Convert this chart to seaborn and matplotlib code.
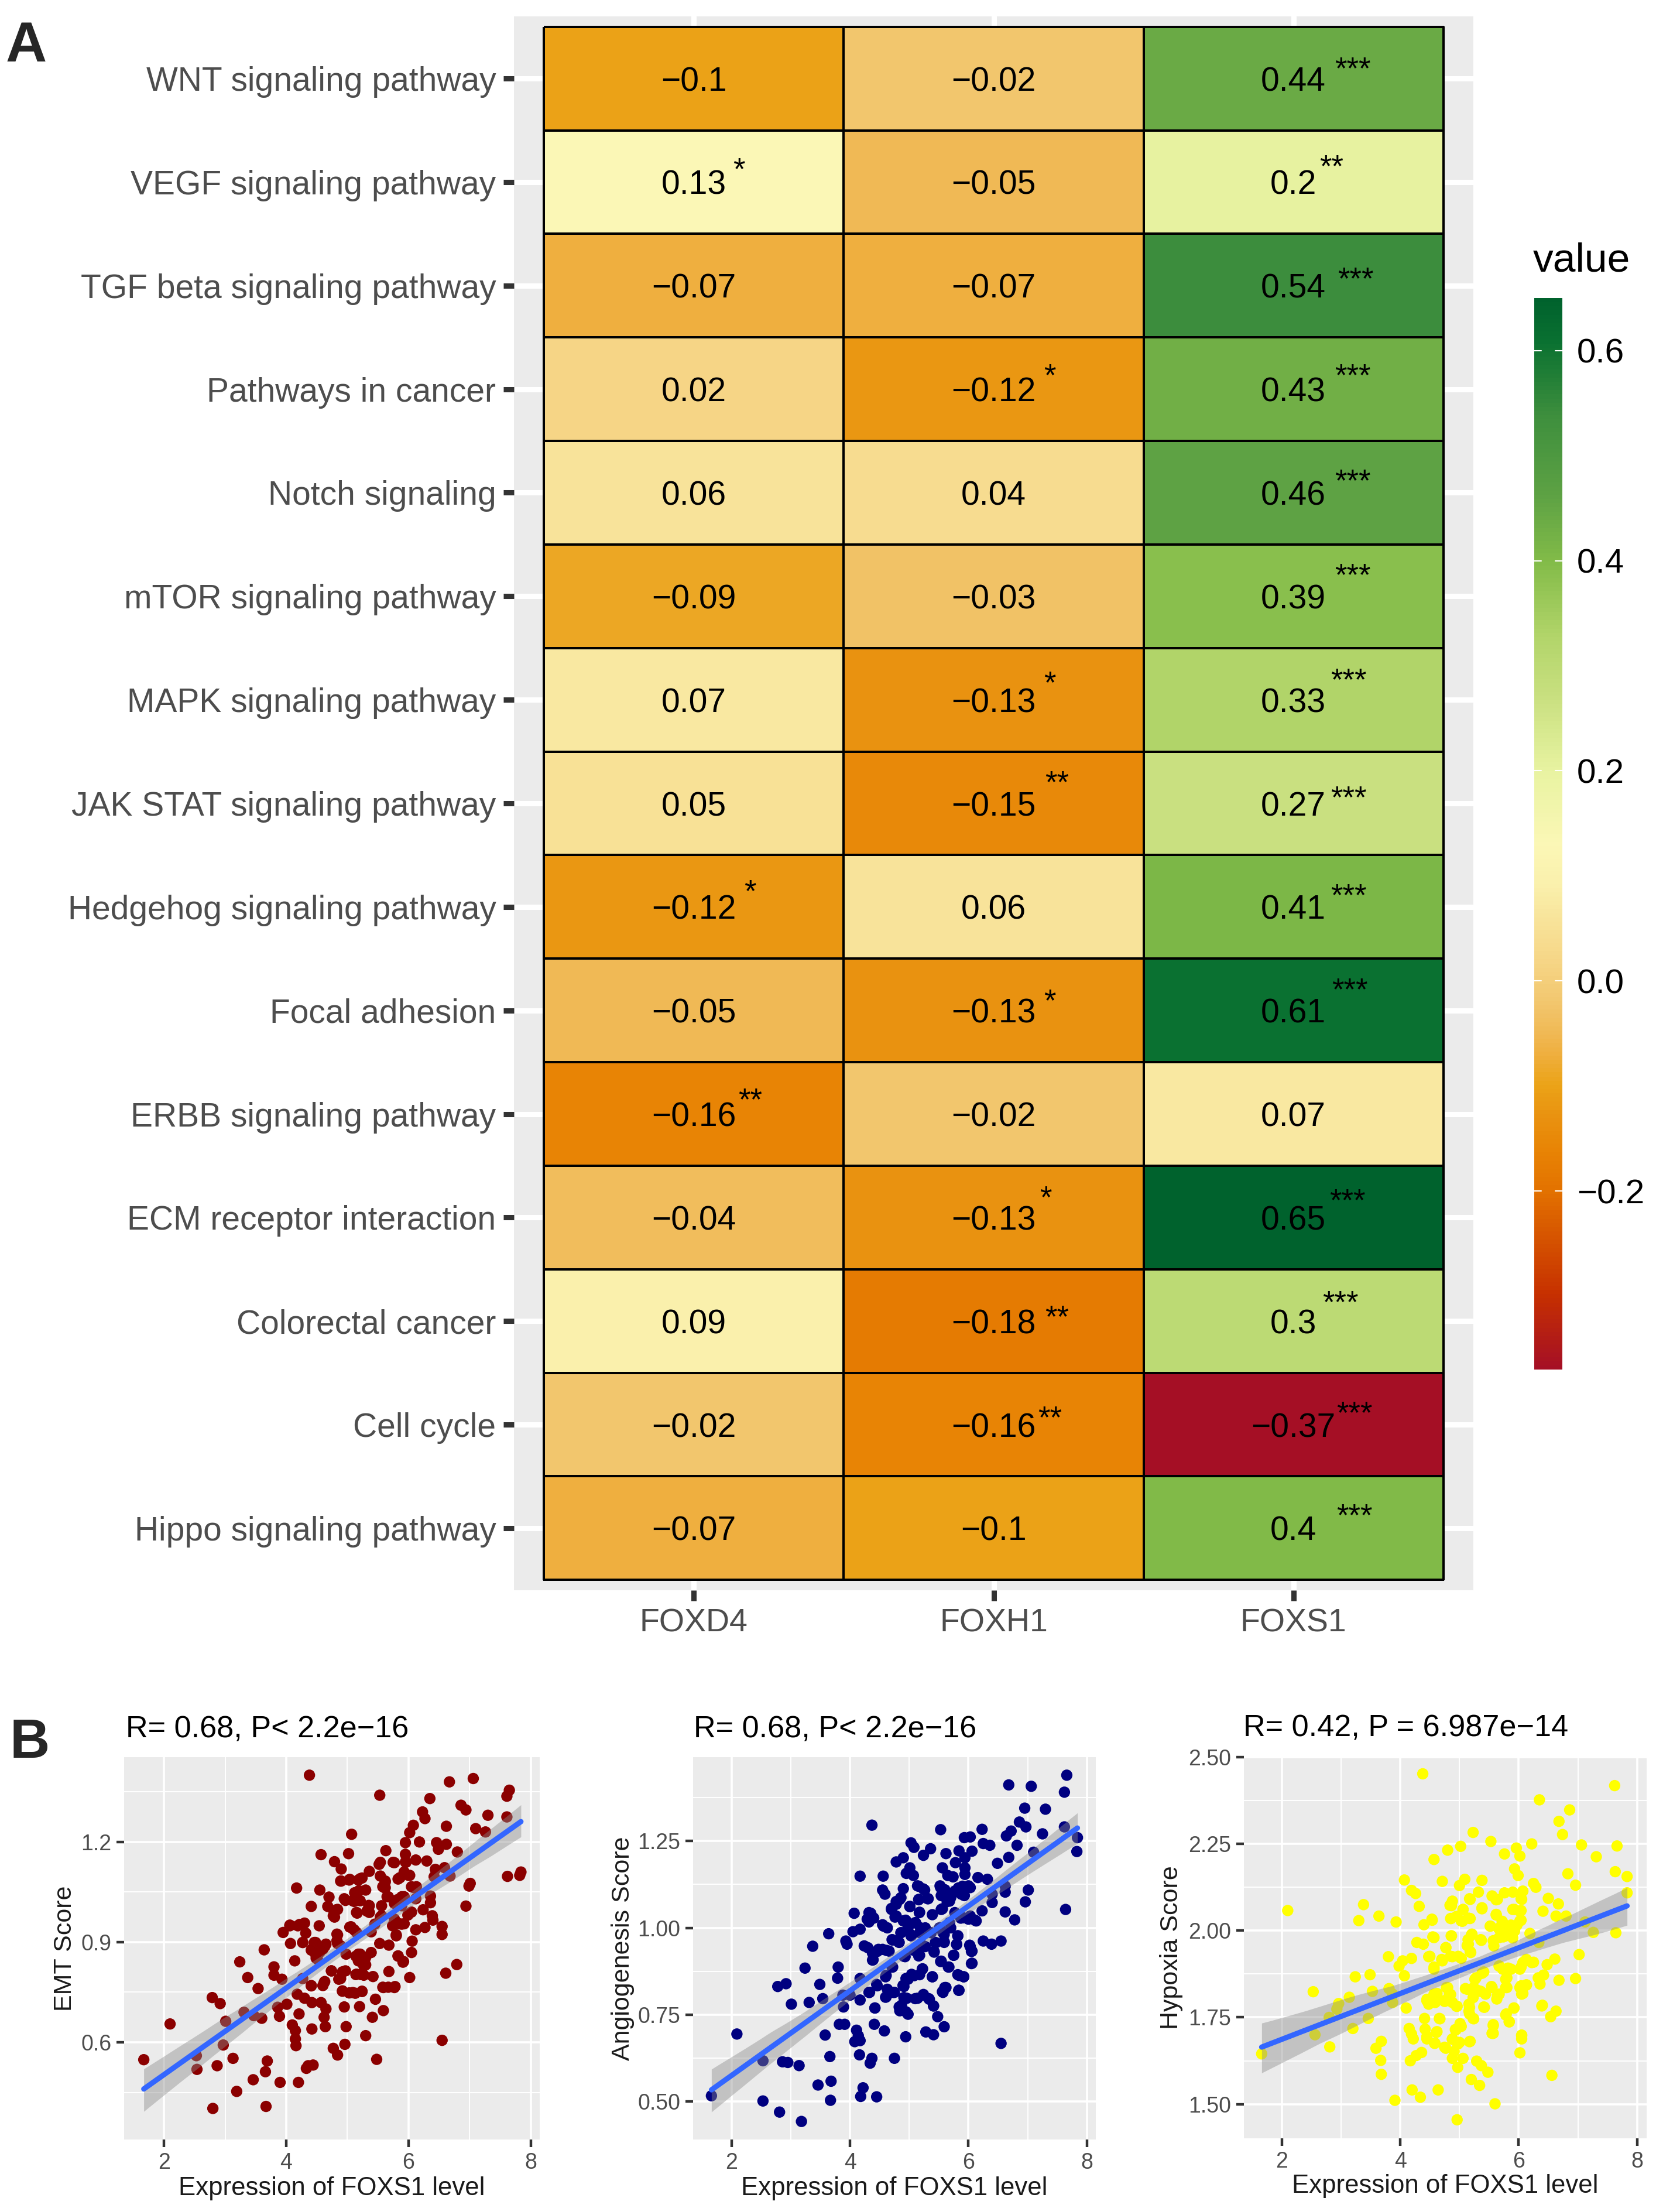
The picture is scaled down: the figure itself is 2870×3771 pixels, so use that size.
import numpy as np
import pandas as pd
import matplotlib
matplotlib.use("Agg")
import matplotlib.pyplot as plt
from matplotlib.colors import LinearSegmentedColormap
import seaborn as sns

sns.set_style("white")
plt.rcParams['font.family'] = ['Liberation Sans', 'DejaVu Sans']

W, H = 2870, 3771
GENES = ["FOXD4", "FOXH1", "FOXS1"]
PATHWAYS = ["WNT signaling pathway", "VEGF signaling pathway", "TGF beta signaling pathway",
            "Pathways in cancer", "Notch signaling", "mTOR signaling pathway", "MAPK signaling pathway",
            "JAK STAT signaling pathway", "Hedgehog signaling pathway", "Focal adhesion",
            "ERBB signaling pathway", "ECM receptor interaction", "Colorectal cancer", "Cell cycle",
            "Hippo signaling pathway"]
FOXD4 = [-0.1, 0.13, -0.07, 0.02, 0.06, -0.09, 0.07, 0.05, -0.12, -0.05, -0.16, -0.04, 0.09, -0.02, -0.07]
FOXH1 = [-0.02, -0.05, -0.07, -0.12, 0.04, -0.03, -0.13, -0.15, 0.06, -0.13, -0.02, -0.13, -0.18, -0.16, -0.1]
FOXS1 = [0.44, 0.2, 0.54, 0.43, 0.46, 0.39, 0.33, 0.27, 0.41, 0.61, 0.07, 0.65, 0.3, -0.37, 0.4]
STARS_D4 = ["", "*", "", "", "", "", "", "", "*", "", "**", "", "", "", ""]
STARS_H1 = ["", "", "", "*", "", "", "*", "**", "", "*", "", "*", "**", "**", ""]
STARS_S1 = ["***", "**", "***", "***", "***", "***", "***", "***", "***", "***", "", "***", "***", "***", "***"]

CMAP_VALUES = [-0.37, -0.3, -0.2, -0.16, -0.13, -0.1, -0.07, -0.05, -0.02, 0.02, 0.06, 0.09, 0.13, 0.2,
               0.27, 0.33, 0.4, 0.46, 0.54, 0.61, 0.65]
CMAP_COLORS = ["#A50F25", "#C63000", "#E37200", "#E88505", "#E99210", "#EBA317", "#EFAF3F", "#F0B955",
               "#F2C76F", "#F6D687", "#F8E49B", "#FAF0AC", "#FBF7B6", "#E8F3A1", "#C9E080", "#B1D469",
               "#82BB48", "#5FA344", "#3D8E3D", "#0A7131", "#00622D"]

# Scatter values
EMT_X = [4.38,5.53,6.67,7.06,7.65,7.61,6.35,6.86,6.94,7.30,6.23,6.27,7.61,6.62,7.10,7.26,5.07,6.08,6.02,5.95,6.18,6.46,6.62,6.49,6.80,5.63,4.57,5.02,5.95,4.79,4.90,5.52,5.77,5.95,6.12,6.30,5.36,6.44,6.59,5.54,5.86,6.00,6.68,6.42,7.62,7.84,7.82,4.89,5.04,5.21,5.62,7.01,6.99,4.17,4.55,5.30,5.62,6.09,5.12,4.70,5.65,5.89,6.36,4.95,5.09,5.21,5.77,6.12,6.36,4.41,6.94,4.68,5.36,5.56,5.89,4.82,6.24,5.15,5.36,4.77,5.56,6.00,6.39,5.77,6.40,5.89,5.45,4.06,4.22,4.30,4.54,5.04,5.74,6.55,6.27,6.12,3.95,4.32,4.83,5.15,5.39,6.55,5.80,4.83,6.06,4.07,4.27,4.48,4.65,4.89,5.53,5.68,3.64,4.42,4.60,6.05,5.39,4.48,5.18,4.98,5.83,4.51,5.30,5.18,3.24,4.14,5.92,3.80,5.27,6.79,4.74,4.97,5.68,6.61,3.80,5.15,5.27,3.37,3.93,4.27,4.86,5.42,6.02,4.62,4.41,3.54,5.77,5.59,4.92,5.09,5.24,4.18,4.30,5.46,2.79,2.92,4.42,4.57,4.01,5.20,4.95,4.65,3.86,5.59,4.21,3.31,3.89,3.47,4.62,5.41,3.60,3.01,2.10,4.10,4.42,4.64,4.98,4.15,5.30,4.15,6.55,4.96,2.97,4.16,4.77,4.84,1.67,2.53,3.13,5.48,3.69,2.87,4.36,4.44,2.54,4.33,3.66,3.46,3.90,4.20,3.19,3.67,2.80]
EMT_Y = [1.40,1.34,1.38,1.39,1.355,1.337,1.33,1.31,1.296,1.28,1.29,1.27,1.275,1.247,1.24,1.23,1.223,1.25,1.228,1.198,1.20,1.198,1.193,1.178,1.17,1.174,1.162,1.165,1.163,1.141,1.119,1.133,1.138,1.14,1.146,1.143,1.112,1.118,1.123,1.098,1.093,1.10,1.098,1.096,1.097,1.11,1.10,1.083,1.088,1.09,1.083,1.076,1.068,1.062,1.056,1.056,1.063,1.063,1.048,1.035,1.036,1.036,1.038,1.03,1.024,1.024,1.024,1.03,1.018,1.007,1.008,1.007,1.009,1.009,1.009,0.997,0.997,0.989,0.989,0.979,0.979,0.984,0.979,0.969,0.966,0.954,0.954,0.951,0.953,0.957,0.949,0.945,0.949,0.947,0.944,0.937,0.929,0.927,0.924,0.929,0.931,0.923,0.919,0.904,0.903,0.896,0.899,0.899,0.894,0.889,0.896,0.891,0.877,0.879,0.879,0.869,0.869,0.864,0.864,0.864,0.859,0.849,0.854,0.844,0.841,0.844,0.842,0.826,0.829,0.833,0.814,0.814,0.812,0.807,0.801,0.804,0.801,0.794,0.789,0.791,0.789,0.797,0.794,0.779,0.769,0.761,0.764,0.764,0.754,0.749,0.752,0.744,0.732,0.729,0.734,0.716,0.719,0.719,0.714,0.707,0.706,0.70,0.705,0.695,0.685,0.69,0.678,0.68,0.675,0.675,0.672,0.663,0.655,0.652,0.64,0.647,0.647,0.635,0.62,0.61,0.606,0.594,0.592,0.59,0.582,0.562,0.548,0.56,0.552,0.549,0.544,0.53,0.53,0.532,0.519,0.522,0.512,0.488,0.48,0.48,0.453,0.408,0.402]
EMT_X_DENSE = [4.97,5.11,5.19,4.78,4.84,4.79,5.16,5.35,5.32,5.54,5.67,5.83,5.93,5.77,5.61,6.05,6.13,5.99,6.05,5.85,5.93,5.75,5.80,5.11,5.06,4.84,4.84,4.46,4.63,4.41,4.49,4.55,4.27,4.06,4.19,5.14,5.21,5.27,5.30,4.92,4.89,4.74,5.14,5.22,4.63,4.60,4.41,5.58,5.67,5.78,4.92,5.03,5.13,5.24,5.83,5.91,4.90,5.03,5.18,5.24,5.54,5.75,5.96,5.93,6.02,5.83,5.62,5.58]
EMT_Y_DENSE = [1.025,1.022,1.054,0.993,0.998,0.975,0.987,1.01,0.993,0.975,1.036,1.028,1.036,1.016,1.063,1.066,1.066,0.981,0.99,0.955,0.955,0.952,0.922,0.937,0.946,0.922,0.896,0.899,0.887,0.876,0.852,0.87,0.899,0.949,0.949,0.858,0.864,0.849,0.832,0.811,0.791,0.814,0.803,0.803,0.782,0.77,0.77,0.765,0.765,0.767,0.753,0.748,0.747,0.753,0.858,0.84,1.083,1.086,1.086,1.092,1.139,1.139,1.139,1.11,1.10,1.089,1.08,1.066]
ANG_X = [7.66,6.68,7.06,7.62,6.95,7.30,4.37,6.86,6.97,7.62,5.53,6.23,6.72,6.64,7.25,5.93,6.03,7.84,5.03,6.25,6.36,6.82,5.08,5.36,5.84,6.06,7.10,7.83,5.24,5.62,6.68,4.90,4.78,5.94,5.78,6.49,5.01,5.56,5.94,4.17,4.56,4.95,5.07,5.65,5.74,5.94,6.16,6.32,5.16,6.62,4.90,5.53,5.90,4.55,5.26,6.03,5.77,7.01,6.62,4.59,6.40,5.56,5.88,5.16,5.32,4.84,6.96,6.40,5.68,4.78,5.01,5.56,4.70,7.64,6.23,4.07,4.32,5.17,5.39,6.62,5.77,4.78,4.39,6.03,5.91,4.29,6.78,6.11,4.90,5.10,4.55,5.68,4.63,5.51,5.19,4.17,4.05,3.64,4.86,5.04,5.59,5.82,3.93,4.72,4.82,5.45,5.59,6.25,6.55,5.80,6.39,3.95,3.37,4.24,6.02,4.30,5.24,4.55,6.06,4.46,4.66,5.10,5.42,5.75,4.39,4.93,5.16,5.53,6.06,5.66,3.80,3.24,4.72,5.22,5.04,5.84,5.92,5.39,4.61,4.17,3.79,4.98,2.92,2.78,3.49,4.46,4.91,5.62,5.56,4.63,5.84,4.32,4.75,4.61,5.24,3.88,4.00,4.91,5.10,5.33,3.54,4.17,3.31,3.01,4.87,5.41,3.89,4.42,4.84,4.98,5.48,3.82,3.91,4.41,5.59,4.11,4.58,5.28,5.41,2.09,3.58,4.14,4.94,4.17,4.08,6.55,4.16,3.66,4.75,4.37,4.34,2.53,2.86,2.95,3.14,3.68,3.46,4.22,4.18,4.45,1.66,3.67,2.53,2.81,3.18]
ANG_Y = [1.44,1.412,1.408,1.391,1.345,1.342,1.296,1.305,1.291,1.291,1.283,1.284,1.279,1.265,1.271,1.26,1.262,1.26,1.245,1.243,1.238,1.238,1.232,1.228,1.222,1.221,1.218,1.22,1.209,1.214,1.203,1.202,1.19,1.202,1.188,1.186,1.173,1.173,1.173,1.149,1.149,1.157,1.151,1.151,1.147,1.154,1.145,1.14,1.12,1.12,1.113,1.116,1.12,1.109,1.109,1.116,1.106,1.109,1.103,1.097,1.097,1.094,1.097,1.082,1.084,1.082,1.075,1.073,1.077,1.068,1.061,1.055,1.053,1.053,1.049,1.042,1.044,1.044,1.038,1.046,1.044,1.034,1.029,1.034,1.029,1.025,1.023,1.022,1.02,1.015,1.009,1.015,1.0,1.0,1.0,0.996,0.989,0.983,0.986,0.979,0.981,0.977,0.962,0.965,0.959,0.957,0.96,0.962,0.962,0.953,0.953,0.953,0.947,0.948,0.95,0.943,0.948,0.938,0.933,0.932,0.933,0.938,0.932,0.921,0.908,0.917,0.919,0.903,0.898,0.887,0.887,0.884,0.887,0.881,0.866,0.863,0.859,0.859,0.863,0.854,0.855,0.852,0.839,0.831,0.837,0.833,0.831,0.828,0.816,0.823,0.82,0.814,0.814,0.801,0.806,0.806,0.806,0.799,0.796,0.796,0.796,0.792,0.785,0.78,0.777,0.775,0.772,0.769,0.761,0.751,0.744,0.722,0.722,0.722,0.715,0.705,0.703,0.70,0.692,0.694,0.691,0.689,0.686,0.675,0.672,0.667,0.634,0.629,0.624,0.624,0.61,0.617,0.614,0.612,0.603,0.558,0.547,0.539,0.514,0.513,0.516,0.503,0.501,0.469,0.442]
ANG_X_DENSE = [4.78,4.86,4.70,4.76,4.94,5.11,5.175,5.01,5.16,5.31,5.24,5.14,5.52,5.60,5.54,5.70,5.83,6.0,5.77,5.93,5.54,5.64,4.35,4.40,4.32,4.565,4.86,4.98,5.03,4.71,4.83,5.27,5.18,5.37,5.44,5.59,5.57,5.70,5.82,5.80,6.03,6.05,6.0,6.13,5.87,4.38,4.48,4.615,4.38,4.91,5.175,5.08,5.27,5.42,5.75,5.54,5.67,6.05,5.225,5.08,4.945,5.175,5.39,5.82,5.92,4.60,4.71,4.895,4.65,4.60,4.73,4.45,4.33,4.96,5.24,5.34,5.41,5.14,5.60,5.57,5.835,4.42,4.83,4.945]
ANG_Y_DENSE = [1.076,1.087,1.056,1.031,1.022,1.014,1.045,1.062,1.081,1.084,1.112,1.121,1.121,1.11,1.093,1.087,1.115,1.121,1.104,1.093,1.053,1.076,1.042,1.028,1.017,1.005,0.986,1.0,0.977,0.966,0.958,1.0,0.986,0.986,0.958,0.958,0.986,1.0,0.977,0.952,0.946,0.932,1.025,1.02,1.028,0.927,0.938,0.935,0.907,0.918,0.921,0.935,0.946,0.93,0.921,0.904,0.887,0.897,0.882,0.862,0.854,0.865,0.859,0.865,0.859,0.859,0.887,0.834,0.817,0.80,0.814,0.837,0.814,0.797,0.808,0.794,0.775,0.797,0.828,0.814,0.82,0.769,0.772,0.758]
HYP_X = [4.38,7.62,6.35,6.86,6.68,5.23,6.74,5.53,6.22,5.02,7.06,7.66,5.96,4.80,5.76,6.02,7.31,4.57,5.93,7.63,6.83,5.99,7.83,4.07,4.71,5.09,5.38,6.25,5.00,6.96,6.29,4.19,4.26,5.32,5.76,5.90,7.83,6.07,5.55,5.17,6.50,5.64,6.05,4.88,6.67,3.38,4.32,4.84,2.10,5.06,5.38,5.93,6.41,6.02,3.64,5.62,6.63,6.80,4.86,5.15,3.30,4.54,5.03,3.93,6.02,5.73,4.40,5.52,5.81,7.12,5.93,7.26,7.64,6.19,5.20,4.86,4.57,5.37,5.67,5.78,4.28,4.39,5.15,6.34,4.77,5.58,5.19,3.80,4.48,4.19,4.04,4.88,5.03,7.02,6.61,4.71,6.07,6.22,3.98,6.48,5.67,4.57,5.87,6.02,5.73,3.49,3.24,5.38,4.07,6.42,5.26,6.96,6.68,5.78,6.36,6.13,6.02,3.81,4.80,5.13,5.55,5.78,5.32,2.53,3.53,5.44,6.05,3.87,5.67,3.14,4.57,4.83,5.23,5.63,4.45,4.74,2.96,3.87,4.48,4.59,4.88,6.39,5.17,5.42,4.10,4.96,5.92,2.93,6.63,5.17,5.78,6.54,2.80,3.46,4.41,4.66,5.23,5.84,5.57,5.03,3.20,4.15,4.42,4.94,4.61,5.55,4.19,2.56,6.05,6.05,4.45,4.88,4.22,3.68,4.58,5.17,4.97,3.59,4.77,2.81,6.02,1.66,4.36,4.27,4.91,4.17,4.88,5.06,3.67,5.29,5.37,5.48,4.97,3.68,6.56,5.20,5.34,4.20,4.64,4.34,3.91,5.60,4.96]
HYP_Y = [2.452,2.418,2.377,2.348,2.315,2.283,2.277,2.257,2.25,2.243,2.247,2.244,2.238,2.232,2.221,2.215,2.213,2.205,2.178,2.17,2.164,2.159,2.156,2.146,2.142,2.148,2.145,2.136,2.13,2.131,2.125,2.116,2.107,2.111,2.109,2.111,2.109,2.114,2.10,2.092,2.093,2.09,2.09,2.085,2.077,2.075,2.07,2.073,2.058,2.061,2.063,2.061,2.056,2.056,2.042,2.045,2.042,2.042,2.035,2.036,2.029,2.03,2.028,2.025,2.028,2.023,2.017,2.013,2.009,2.025,1.999,1.995,1.994,1.992,1.987,1.985,1.98,1.972,1.98,1.985,1.966,1.961,1.961,1.966,1.951,1.956,1.937,1.925,1.925,1.92,1.913,1.925,1.92,1.931,1.918,1.913,1.908,1.908,1.898,1.902,1.898,1.889,1.889,1.889,1.889,1.873,1.867,1.877,1.87,1.872,1.86,1.862,1.857,1.86,1.846,1.843,1.836,1.833,1.836,1.831,1.836,1.836,1.827,1.824,1.825,1.817,1.817,1.817,1.817,1.808,1.817,1.817,1.807,1.803,1.798,1.798,1.79,1.793,1.788,1.793,1.793,1.783,1.779,1.779,1.777,1.782,1.777,1.774,1.768,1.76,1.757,1.752,1.75,1.747,1.747,1.747,1.747,1.738,1.726,1.724,1.718,1.718,1.716,1.714,1.707,1.704,1.702,1.70,1.699,1.688,1.688,1.688,1.688,1.681,1.675,1.68,1.673,1.661,1.661,1.665,1.648,1.645,1.649,1.64,1.652,1.625,1.632,1.632,1.626,1.624,1.611,1.592,1.606,1.586,1.583,1.571,1.554,1.541,1.541,1.52,1.511,1.501,1.455]
HYP_X_DENSE = [4.865,4.85,4.95,5.05,5.06,5.18,5.18,5.38,4.535,5.62,5.72,5.52,5.66,5.90,6.04,6.04,5.87,5.97,5.62,6.04,4.55,4.865,5.21,5.145,5.13,5.18,5.36,4.77,5.57,5.74,5.90,4.50,4.70,4.85,4.98,4.57,5.41,5.67,5.82,6.04,6.25,6.13,5.28,5.10,5.24,5.36,5.54,5.64,5.80,5.80,6.07,6.04,6.13,6.33,4.78,4.85,4.62,4.45,4.585,4.75,4.95,5.16,5.16,5.41,5.24,5.79,5.92,5.84,4.67,6.40,5.57,5.57,5.01,4.93,4.62,4.88,5.18,5.0,4.585,4.75,4.45,6.05]
HYP_Y_DENSE = [2.072,2.035,2.041,2.027,2.061,2.035,2.09,2.066,2.033,2.047,2.027,2.013,2.007,2.061,2.058,2.03,2.016,2.016,2.089,2.092,1.982,1.985,1.99,1.974,1.957,1.94,1.974,1.951,1.971,1.982,1.979,1.926,1.917,1.926,1.926,1.895,1.881,1.898,1.892,1.895,1.909,1.917,1.864,1.833,1.836,1.825,1.839,1.813,1.864,1.836,1.819,1.841,1.844,1.864,1.836,1.816,1.819,1.802,1.796,1.796,1.782,1.788,1.768,1.78,1.746,1.76,1.777,1.737,1.746,1.785,1.729,1.704,1.732,1.715,1.709,1.687,1.681,1.678,1.676,1.664,1.695,1.698]


def axpx(l, t, r, b):
    return fig.add_axes([l / W, 1 - b / H, (r - l) / W, (b - t) / H])


fig = plt.figure(figsize=(W / 100, H / 100), dpi=100, facecolor="white")

# Panel A -------------------------------------------------------------------
cmap = LinearSegmentedColormap.from_list(
    "foxmap", [((v + 0.37) / 1.02, c) for v, c in zip(CMAP_VALUES, CMAP_COLORS)])
df = pd.DataFrame({"FOXD4": FOXD4, "FOXH1": FOXH1, "FOXS1": FOXS1}, index=PATHWAYS)
labels = df.map(lambda v: f"{v:g}".replace("-", "\u2212"))

ax = axpx(878, 28, 2517, 2716)
cax = axpx(2621, 509, 2669, 2339)
sns.heatmap(df, ax=ax, cbar_ax=cax, cmap=cmap, vmin=-0.37, vmax=0.65, annot=labels.values, fmt="",
            annot_kws={"size": 41, "color": "black", "va": "center_baseline"}, linewidths=1.6, linecolor="black")
for t in ax.texts:
    t.set_color("black")
ax.set_xlim(-0.1, 3.1)
ax.set_ylim(15.1, -0.1)
ax.set_facecolor("#EBEBEB")
ax.set_axisbelow(True)
ax.grid(True, color="white", lw=6.5)
for s in ax.spines.values():
    s.set_visible(False)
ax.tick_params(axis="both", length=13, width=6.5, color="#333333", labelcolor="#4D4D4D",
               labelsize=41, left=True, bottom=True, pad=9)
ax.set_yticklabels(PATHWAYS, rotation=0, fontsize=41, color="#4D4D4D", va="center_baseline")
ax.set_xticklabels(GENES, rotation=0, fontsize=40, color="#4D4D4D")
ax.set_xlabel("")
ax.set_ylabel("")

# Significance marks: layout offsets from each cell centre, picture pixels (right, up)
STAR_OFFSET = {(0, 2): (101, 24), (1, 0): (77, 29), (1, 2): (65, 34), (2, 2): (106, 19), (3, 1): (96, 31),
               (3, 2): (101, 31), (4, 2): (101, 27), (5, 2): (101, 43), (6, 1): (96, 36), (6, 2): (94, 41),
               (7, 1): (108, 43), (7, 2): (94, 17), (8, 0): (96, 34), (8, 2): (94, 27), (9, 1): (96, 24),
               (9, 2): (96, 43), (10, 0): (96, 31), (11, 1): (89, 41), (11, 2): (92, 36), (12, 1): (108, 14),
               (12, 2): (80, 39), (13, 1): (96, 19), (13, 2): (104, 27), (14, 2): (104, 29)}
for col, stars in enumerate([STARS_D4, STARS_H1, STARS_S1]):
    for row, st in enumerate(stars):
        if st:
            dx, dy = STAR_OFFSET[(row, col)]
            ax.annotate(st, xy=(col + 0.5, row + 0.5), xytext=(dx, dy - 24), textcoords="offset pixels",
                        ha="center", va="baseline", fontsize=38, color="black", annotation_clip=False)

# Colour bar
cax.set_yticks([-0.2, 0.0, 0.2, 0.4, 0.6])
cax.set_yticklabels(["\u22120.2", "0.0", "0.2", "0.4", "0.6"], va="center_baseline")
cax.tick_params(axis="y", length=0, labelsize=42, labelcolor="black", pad=18, right=True, labelright=True)
for v in [-0.2, 0.0, 0.2, 0.4, 0.6]:
    cax.axhline(v, 0, 0.25, color="white", lw=1.5)
    cax.axhline(v, 0.75, 1, color="white", lw=1.5)
for s in cax.spines.values():
    s.set_visible(False)
fig.text(2619 / W, 1 - 445 / H, "value", fontsize=50, color="black", ha="left", va="center")

# Panel letters
fig.text(10 / W, 1 - 105 / H, "A", fontsize=70, fontweight="bold", ha="left", va="baseline")
fig.text(17 / W, 1 - 3002 / H, "B", fontsize=68, fontweight="bold", ha="left", va="baseline")

# Panel B -------------------------------------------------------------------
PANELS = [
    dict(box=(212, 3001, 922, 3654), x=EMT_X + EMT_X_DENSE, y=EMT_Y + EMT_Y_DENSE, color="#8B0000",
         ylabel="EMT Score", title="R= 0.68, P< 2.2e\u221216", xlim=(1.348, 8.147), ylim=(0.309, 1.454),
         yticks=[0.6, 0.9, 1.2], yfmt="{:.1f}", yminor=[0.45, 0.75, 1.05, 1.35],
         title_xy=(215, 2968), ylab_x=111, xlab_y=3737),
    dict(box=(1184, 3001, 1872, 3654), x=ANG_X + ANG_X_DENSE, y=ANG_Y + ANG_Y_DENSE, color="#000080",
         ylabel="Angiogenesis Score", title="R= 0.68, P< 2.2e\u221216", xlim=(1.35, 8.15), ylim=(0.39, 1.492),
         yticks=[0.5, 0.75, 1.0, 1.25], yfmt="{:.2f}", yminor=[0.625, 0.875, 1.125, 1.375],
         title_xy=(1185, 2968), ylab_x=1064, xlab_y=3737),
    dict(box=(2125, 3001, 2813, 3652), x=HYP_X + HYP_X_DENSE, y=HYP_Y + HYP_Y_DENSE, color="#FFFF00",
         ylabel="Hypoxia Score", title="R= 0.42, P = 6.987e\u221214", xlim=(1.36, 8.16), ylim=(1.4015, 2.50),
         yticks=[1.5, 1.75, 2.0, 2.25, 2.5], yfmt="{:.2f}", yminor=[1.625, 1.875, 2.125, 2.375],
         title_xy=(2124, 2965), ylab_x=2001, xlab_y=3734),
]
for p in PANELS:
    l, t, r, b = p["box"]
    a = axpx(l, t, r, b)
    a.set_facecolor("#EBEBEB")
    a.set_axisbelow(True)
    sns.scatterplot(x=p["x"], y=p["y"], ax=a, s=195, color=p["color"], edgecolor="none", linewidth=0)
    sns.regplot(x=np.array(p["x"]), y=np.array(p["y"]), ax=a, scatter=False, ci=95, n_boot=500, seed=3,
                truncate=True, color="#8A8A8A", line_kws={"lw": 0})
    a.collections[-1].set_alpha(0.42)
    a.collections[-1].set_linewidth(0)
    sns.regplot(x=np.array(p["x"]), y=np.array(p["y"]), ax=a, scatter=False, ci=None, truncate=True,
                color="#3366FF", line_kws={"lw": 6.5})
    a.set_xlim(*p["xlim"])
    a.set_ylim(*p["ylim"])
    a.set_xticks([2, 4, 6, 8])
    a.set_yticks(p["yticks"])
    a.set_yticklabels([p["yfmt"].format(v) for v in p["yticks"]], va="center_baseline")
    a.set_xticks([3, 5, 7], minor=True)
    a.set_yticks(p["yminor"], minor=True)
    a.grid(True, which="major", color="white", lw=2.6)
    a.grid(True, which="minor", color="white", lw=1.4)
    a.tick_params(axis="both", which="major", length=9.5, width=3.2, color="#333333", labelcolor="#4D4D4D",
                  labelsize=27, left=True, bottom=True, pad=6)
    a.tick_params(axis="both", which="minor", length=0)
    for s in a.spines.values():
        s.set_visible(False)
    a.set_xlabel("Expression of FOXS1 level", fontsize=31.5, color="#1A1A1A", va="center")
    a.xaxis.set_label_coords(0.5, (b - p["xlab_y"]) / (b - t))
    a.set_ylabel(p["ylabel"], fontsize=31, color="#1A1A1A", va="center", ha="center")
    a.yaxis.set_label_coords((p["ylab_x"] - l) / (r - l), 0.5)
    fig.text(p["title_xy"][0] / W, 1 - p["title_xy"][1] / H, p["title"], fontsize=37.6, color="black",
             ha="left", va="baseline")

fig.savefig("out.png", dpi=100, facecolor="white")
